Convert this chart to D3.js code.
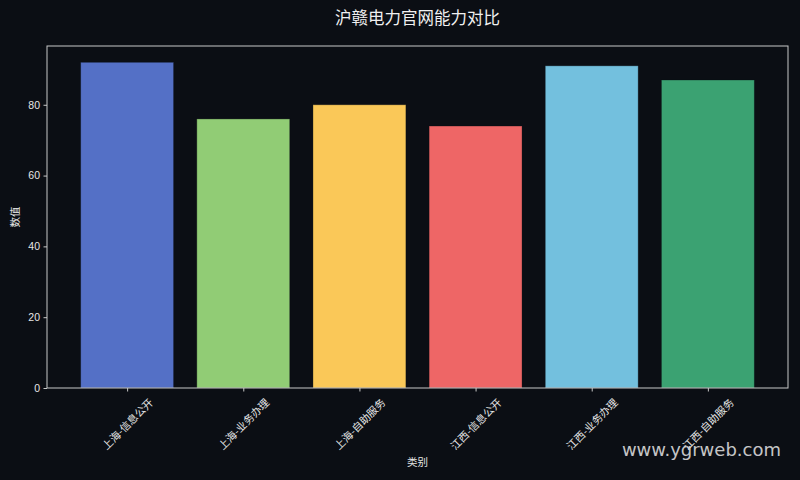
<!DOCTYPE html>
<html>
<head>
<meta charset="utf-8">
<script src="https://cdn.jsdelivr.net/npm/d3@7"></script>
<style>
  html, body { margin: 0; padding: 0; background: #0b0e14; }
  svg { display: block; font-family: "Noto Sans CJK SC", "Noto Sans", sans-serif; }
</style>
</head>
<body>
<div id="chart"></div>
<script>
// chart data
var categories = ["上海-信息公开", "上海-业务办理", "上海-自助服务", "江西-信息公开", "江西-业务办理", "江西-自助服务"];
var values = [92, 76, 80, 74, 91, 87];
var barColors = ["#5470c6", "#91cc75", "#fac858", "#ee6666", "#73c0de", "#3ba272"];
var yTicks = [0, 20, 40, 60, 80];

var width = 800, height = 480;
var margin = { top: 46, right: 12, bottom: 92, left: 47 };
var plotW = width - margin.left - margin.right,
    plotH = height - margin.top - margin.bottom;

var svg = d3.select("#chart").append("svg")
    .attr("width", width)
    .attr("height", height);

svg.append("rect")
    .attr("width", width)
    .attr("height", height)
    .attr("fill", "#0b0e14");

var g = svg.append("g")
    .attr("transform", "translate(" + margin.left + "," + margin.top + ")");

// matplotlib-like limits: bars of width 0.8, 5% margins
var n = categories.length;
var lo = -0.4, hi = n - 1 + 0.4, pad = (hi - lo) * 0.05;
var x = d3.scaleLinear().domain([lo - pad, hi + pad]).range([0, plotW]);
var y = d3.scaleLinear().domain([0, d3.max(values) * 1.05]).range([plotH, 0]);

g.selectAll(".bar")
    .data(values)
    .enter()
    .append("rect")
    .attr("class", "bar")
    .attr("x", function (d, i) { return x(i - 0.4); })
    .attr("width", x(0.8) - x(0))
    .attr("y", function (d) { return y(d); })
    .attr("height", function (d) { return plotH - y(d); })
    .attr("fill", function (d, i) { return barColors[i]; })
    .attr("stroke", "#0b0e14")
    .attr("stroke-opacity", 0.4)
    .attr("stroke-width", 0.8);

// frame
g.append("rect")
    .attr("width", plotW)
    .attr("height", plotH)
    .attr("fill", "none")
    .attr("stroke", "#c8c8c8")
    .attr("stroke-width", 1);

// y axis
var yAxis = g.append("g")
    .call(d3.axisLeft(y).tickValues(yTicks).tickSize(3.5).tickPadding(3.5));
yAxis.select(".domain").remove();
yAxis.selectAll("line").attr("stroke", "#c8c8c8");
yAxis.selectAll("text")
    .attr("fill", "#e6e6e6")
    .style("font-size", "10.5px");

// x axis
var xAxis = g.append("g")
    .attr("transform", "translate(0," + plotH + ")")
    .call(d3.axisBottom(x).tickValues(d3.range(n)).tickSize(3.5).tickFormat(""));
xAxis.select(".domain").remove();
xAxis.selectAll("line").attr("stroke", "#c8c8c8");

// rotated category labels, bbox centred under tick
var fs = 10.5;
g.selectAll(".xlabel")
    .data(categories)
    .enter()
    .append("text")
    .attr("class", "xlabel")
    .attr("fill", "#e6e6e6")
    .style("font-size", fs + "px")
    .attr("text-anchor", "middle")
    .attr("dominant-baseline", "central")
    .text(function (d) { return d; })
    .attr("transform", function (d, i) {
        var L = this.getComputedTextLength();
        var half = (L + fs * 1.1) * Math.SQRT1_2 / 2;
        return "translate(" + x(i) + "," + (plotH + 8 + half) + ") rotate(-45)";
    });

// axis titles
svg.append("text")
    .attr("x", margin.left + plotW / 2)
    .attr("y", 466)
    .attr("text-anchor", "middle")
    .attr("fill", "#e6e6e6")
    .style("font-size", "10.5px")
    .text("类别");

svg.append("text")
    .attr("transform", "translate(19," + (margin.top + plotH / 2) + ") rotate(-90)")
    .attr("text-anchor", "middle")
    .attr("fill", "#e6e6e6")
    .style("font-size", "10.5px")
    .text("数值");

// title
svg.append("text")
    .attr("x", margin.left + plotW / 2)
    .attr("y", 24)
    .attr("text-anchor", "middle")
    .attr("fill", "#f0f0f0")
    .style("font-size", "16.5px")
    .text("沪赣电力官网能力对比");

// watermark
svg.append("text")
    .attr("x", 781)
    .attr("y", 456)
    .attr("text-anchor", "end")
    .attr("fill", "#e8e8e8")
    .attr("fill-opacity", 0.85)
    .style("font-family", "'DejaVu Sans', sans-serif")
    .style("font-size", "18px")
    .text("www.ygrweb.com");
</script>
</body>
</html>
